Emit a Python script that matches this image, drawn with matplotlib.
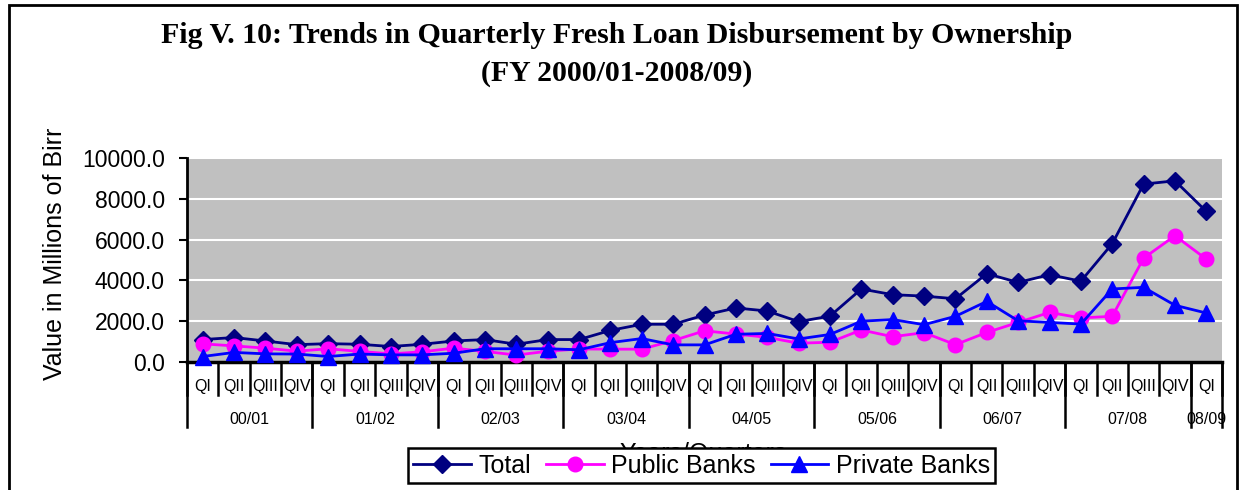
import matplotlib
matplotlib.use('Agg')
import matplotlib.pyplot as plt
from matplotlib.patches import Rectangle
from matplotlib.lines import Line2D

# fiscal years and quarters on the category axis
years = ['00/01', '01/02', '02/03', '03/04', '04/05', '05/06', '06/07', '07/08', '08/09']
quarters = ['QI', 'QII', 'QIII', 'QIV']
quarter_labels = quarters * 8 + ['QI']

# fresh loan disbursement, millions of Birr
total = [1100, 1200, 1030, 850, 900, 870, 760, 870, 1030, 1100, 870, 1100,
         1100, 1550, 1850, 1850, 2300, 2650, 2500, 1980, 2250, 3580, 3300, 3230,
         3100, 4330, 3900, 4280, 3960, 5800, 8720, 8880, 7380]
public_banks = [890, 790, 680, 530, 650, 520, 400, 500, 680, 520, 340, 530,
                640, 630, 630, 1050, 1530, 1370, 1210, 920, 970, 1570, 1240, 1440,
                850, 1450, 1940, 2430, 2160, 2240, 5090, 6190, 5040]
private_banks = [270, 470, 400, 390, 270, 390, 350, 350, 430, 650, 650, 650,
                 600, 950, 1150, 840, 840, 1360, 1400, 1130, 1350, 2000, 2080, 1830,
                 2240, 2970, 2020, 1940, 1860, 3580, 3660, 2780, 2400]

sans = 'Liberation Sans'
serif = 'Liberation Serif'

fig = plt.figure(figsize=(12.41, 4.9), dpi=100)
ax = fig.add_axes([0.1507, 0.2612, 0.834, 0.4164])
ax.set_facecolor('#c0c0c0')

x = list(range(len(total)))
ax.plot(x, total, color='#000080', lw=2, marker='D', markersize=9, clip_on=False, zorder=3)
ax.plot(x, public_banks, color='#ff00ff', lw=2, marker='o', markersize=10.5, clip_on=False, zorder=4)
ax.plot(x, private_banks, color='#0000ff', lw=2, marker='^', markersize=11.5, clip_on=False, zorder=5)

ax.set_xlim(-0.5, len(total) - 0.5)
ax.set_ylim(0, 10000)
ax.set_yticks(range(0, 10001, 2000))
ax.set_yticklabels(['%.1f' % v for v in range(0, 10001, 2000)], fontsize=16.5, family=sans)
ax.yaxis.grid(True, color='white', lw=1.5)
ax.set_axisbelow(True)
ax.tick_params(axis='y', direction='out', length=6, width=1.5, pad=10)
ax.set_xticks([])
for s in ['top', 'right']:
    ax.spines[s].set_visible(False)
ax.spines['left'].set_linewidth(2)
ax.spines['bottom'].set_linewidth(2.5)

# two-level category axis: quarter cells and year groups
tr = ax.get_xaxis_transform()
for i in range(len(total) + 1):
    ax.plot([i - 0.5, i - 0.5], [0, -0.162], color='black', lw=1.8, transform=tr, clip_on=False)
for i in list(range(0, len(total), 4)) + [len(total)]:
    ax.plot([i - 0.5, i - 0.5], [0, -0.32], color='black', lw=1.8, transform=tr, clip_on=False)
for i, q in enumerate(quarter_labels):
    ax.text(i, -0.118, q, ha='center', va='center', fontsize=11.5, family=sans, transform=tr)
for k, y in enumerate(years):
    start = 4 * k
    end = min(start + 3, len(total) - 1)
    ax.text((start + end) / 2, -0.28, y, ha='center', va='center', fontsize=11.5,
            family=sans, transform=tr)

fig.text(0.0443, 0.482, 'Value in Millions of Birr', rotation=90, ha='center', va='center',
         fontsize=18, family=sans)
fig.text(0.5665, 0.0985, 'Years/Quarters', ha='center', va='top', fontsize=18, family=sans)

fig.text(0.497, 0.927, 'Fig V. 10: Trends in Quarterly Fresh Loan Disbursement by Ownership',
         ha='center', va='center', fontsize=21.5, family=serif, weight='bold')
fig.text(0.497, 0.851, '(FY 2000/01-2008/09)', ha='center', va='center',
         fontsize=21.5, family=serif, weight='bold')

handles = [Line2D([], [], color='#000080', lw=2, marker='D', markersize=9),
           Line2D([], [], color='#ff00ff', lw=2, marker='o', markersize=10.5),
           Line2D([], [], color='#0000ff', lw=2, marker='^', markersize=11.5)]
leg = fig.legend(handles, ['Total', 'Public Banks', 'Private Banks'], loc='center',
                 bbox_to_anchor=(0.5653, 0.05), ncol=3, fancybox=False, framealpha=1,
                 edgecolor='black', prop={'family': sans, 'size': 18},
                 handlelength=2.3, handletextpad=0.3, columnspacing=0.6,
                 borderpad=0.22, borderaxespad=0)
leg.get_frame().set_linewidth(1.8)

# outer frame of the chart
fig.patches.append(Rectangle((0.0073, -0.05), 0.9895, 1.0398, transform=fig.transFigure,
                             fill=False, ec='black', lw=2))

fig.savefig('out.png', dpi=100)
